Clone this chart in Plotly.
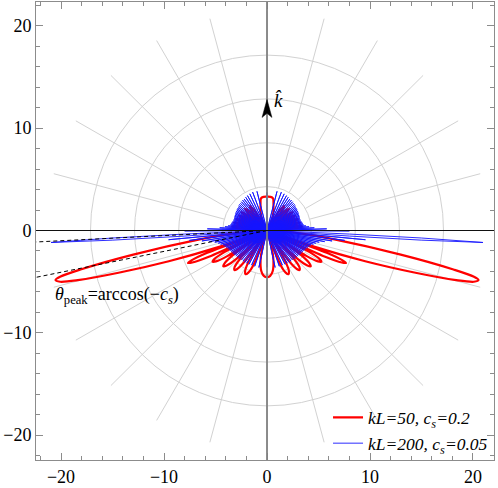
import numpy as np
import plotly.graph_objects as go

# ---------------- data ----------------
series_names = ["<i>kL=50, c<sub>s</sub>=0.2</i>", "<i>kL=200, c<sub>s</sub>=0.05</i>"]
cs_values = [0.2, 0.05]

# red pattern (kL=50, c_s=0.2): right half, angle from k-hat (deg) and radius
red_theta = [
    0, 6, 10.5, 14, 19, 24, 29,
    32, 35, 38, 40,
    42.3, 45, 47.7, 50,
    51.8, 54, 56.2, 58,
    59.8, 62, 64.2, 66,
    67.3, 69.5, 71.7, 73,
    74.3, 76.5, 78.7, 80,
    81.3, 83.5, 85.7, 88,
    95, 97.6, 100.3, 101.9, 102.7, 103.3, 104.0, 104.8, 106.0, 107.5, 109.0, 110.0,
    110.6, 111.7, 112.5, 113.3, 114.4, 115.5,
    117.0, 118.6, 120.0, 121.4, 123.0, 124.5,
    126.0, 127.9, 129.5, 131.1, 133.0, 134.5,
    136.5, 138.6, 140.5, 142.4, 144.5, 147.0,
    149.5, 151.8, 154.0, 156.2, 158.8, 161.5,
    164.5, 168, 172, 176, 180]
red_r = [
    3.3, 3.3, 3.2, 2.6, 1.9, 1.2, 0,
    2.3, 2.9, 2.3, 0,
    2.4, 3.0, 2.4, 0,
    2.45, 3.05, 2.45, 0,
    2.5, 3.1, 2.5, 0,
    2.55, 3.2, 2.55, 0,
    2.6, 3.3, 2.6, 0,
    2.7, 3.4, 2.7, 0,
    3.2, 6.6, 13.2, 18.5, 20.6, 21.1, 20.7, 19.0, 15.0, 10.0, 5.0, 0,
    6.2, 7.9, 8.3, 7.9, 6.2, 0,
    4.6, 5.8, 6.1, 5.8, 4.6, 0,
    4.1, 5.2, 5.5, 5.2, 4.1, 0,
    3.7, 4.75, 5.0, 4.75, 3.7, 0,
    3.5, 4.5, 4.75, 4.5, 3.5, 0,
    1.6, 3.0, 4.0, 4.45, 4.56]

# blue pattern (kL=200, c_s=0.05): lobe tips, right half
blue_up_theta = [0, 14.3, 20.4, 25.0, 29.1, 32.5, 35.8, 38.7, 41.5, 44.2,
                 46.7, 49.1, 51.5, 53.8, 55.9, 58.1, 60.2, 62.2, 64.3, 66.2,
                 68.2, 70.1, 72.0, 73.9, 75.8, 77.6, 79.5, 81.3, 83.1, 84.9,
                 86.7, 88.4, 90.3]
blue_up_r = [3.7, 3.95, 4.0, 3.95, 3.9, 3.85, 3.8, 3.8, 3.75, 3.7,
             3.7, 3.65, 3.6, 3.6, 3.55, 3.55, 3.5, 3.5, 3.45, 3.45,
             3.4, 3.4, 3.4, 3.4, 3.45, 3.5, 3.55, 3.6, 3.8, 4.1,
             4.6, 5.8, 8.0]
blue_main_theta = [91.2, 92.5, 92.8, 93.2, 93.6, 93.9, 95.0]
blue_main_r = [0, 8, 15, 21.0, 15, 8, 0]
blue_low_theta = [95.4, 97.3, 99.2, 101.0, 102.8, 104.7, 106.6, 108.5, 110.4, 112.4,
                  114.3, 116.3, 118.3, 120.4, 122.5, 124.7, 126.9, 129.2, 131.5, 134.0,
                  136.5, 139.2, 142.1, 145.1, 148.4, 152.0, 156.2, 161.1, 167.7, 180]
blue_low_r = [9.6, 7.6, 6.4, 5.7, 5.2, 4.9, 4.7, 4.5, 4.4, 4.3,
              4.2, 4.15, 4.1, 4.05, 4.0, 4.0, 3.95, 3.9, 3.9, 3.85,
              3.85, 3.8, 3.8, 3.8, 3.75, 3.75, 3.7, 3.7, 3.7, 3.6]

tick_vals = [-20, -10, 0, 10, 20]
tick_text = ["\u221220", "\u221210", "0", "10", "20"]
grid_radii = [4.29, 8.57, 12.86, 17.14]
ray_r_inner, ray_r_outer = 4.29, 21.43
ray_angles = list(range(0, 360, 15))
khat_tip, khat_base, khat_notch, khat_halfwidth = 12.8, 11.05, 11.45, 0.48

FONT = "Liberation Serif, Times New Roman, serif"
XR = [-22.43, 22.04]
YR = [-22.43, 22.33]


def polar_xy(theta_deg, r):
    t = np.radians(np.asarray(theta_deg, dtype=float))
    r = np.asarray(r, dtype=float)
    return r * np.sin(t), r * np.cos(t)


def mirror_closed(x, y):
    # right half followed by mirrored left half (going back up)
    xs = np.concatenate([x, -x[::-1][1:]])
    ys = np.concatenate([y, y[::-1][1:]])
    return xs, ys


fig = go.Figure()

# polar grid rays
rx, ry = [], []
for a in ray_angles:
    x0, y0 = polar_xy(a, ray_r_inner)
    x1, y1 = polar_xy(a, ray_r_outer)
    rx += [float(x0), float(x1), None]
    ry += [float(y0), float(y1), None]
fig.add_trace(go.Scatter(x=rx, y=ry, mode="lines", line=dict(color="#d2d2d2", width=1),
                         showlegend=False, hoverinfo="skip"))

# red curve
xr, yr = polar_xy(red_theta, red_r)
xr, yr = mirror_closed(xr, yr)
fig.add_trace(go.Scatter(x=xr, y=yr, mode="lines", name=series_names[0],
                         line=dict(color="rgb(255,0,0)", width=2.2, shape="spline", smoothing=0.9),
                         hoverinfo="skip"))

# blue curve: lobes from the origin to each tip and back
bt, br = [], []
for t, r in zip(blue_up_theta, blue_up_r):
    bt += [t, t]
    br += [0, r]
bt += blue_main_theta
br += blue_main_r
for t, r in zip(blue_low_theta, blue_low_r):
    bt += [t, t]
    br += [0, r]
xb, yb = polar_xy(bt, br)
xb, yb = mirror_closed(xb, yb)
fig.add_trace(go.Scatter(x=xb, y=yb, mode="lines", name=series_names[1],
                         line=dict(color="rgb(20,20,255)", width=0.9),
                         hoverinfo="skip"))

# dashed peak directions theta_peak = arccos(-c_s), drawn to the left
for cs in cs_values:
    tp = np.degrees(np.arccos(-cs))
    x1, y1 = polar_xy(tp, 26.0)
    fig.add_trace(go.Scatter(x=[0, -float(x1)], y=[0, float(y1)], mode="lines",
                             line=dict(color="black", width=1, dash="4px,3px"),
                             showlegend=False, hoverinfo="skip"))

shapes = []
for r in grid_radii:
    shapes.append(dict(type="circle", xref="x", yref="y", x0=-r, x1=r, y0=-r, y1=r,
                       line=dict(color="#d2d2d2", width=1), layer="below"))
# axes through the origin
shapes.append(dict(type="line", xref="x", yref="paper", x0=0, x1=0, y0=0, y1=1,
                   line=dict(color="#808080", width=1.8), layer="above"))
shapes.append(dict(type="line", xref="paper", yref="y", x0=0, x1=1, y0=0, y1=0,
                   line=dict(color="#111111", width=1.1), layer="above"))
# k-hat arrow head
shapes.append(dict(type="path", xref="x", yref="y",
                   path=f"M 0,{khat_tip} L {-khat_halfwidth},{khat_base} L 0,{khat_notch} "
                        f"L {khat_halfwidth},{khat_base} Z",
                   fillcolor="black", line=dict(color="black", width=0.5), layer="above"))

annotations = [
    dict(x=0.5, y=12.75, xref="x", yref="y", text="<i>k̂</i>", showarrow=False,
         xanchor="left", yanchor="middle", font=dict(family=FONT, size=19, color="black")),
    dict(x=-20.75, y=-6.4, xref="x", yref="y",
         text="<i>θ</i><sub>peak</sub>=arccos(\u2212<i>c<sub>s</sub></i>)", showarrow=False,
         xanchor="left", yanchor="middle", font=dict(family=FONT, size=18, color="black")),
]

axis_common = dict(
    tickvals=tick_vals, ticktext=tick_text, ticks="inside", ticklen=7, tickwidth=1,
    tickcolor="#8c8c8c", showline=True, linecolor="#8c8c8c", linewidth=1, mirror="ticks",
    showgrid=False, zeroline=False,
    minor=dict(dtick=2, ticks="inside", ticklen=4, tickcolor="#8c8c8c", showgrid=False),
    tickfont=dict(family=FONT, size=18, color="black"),
)

fig.update_layout(
    width=498, height=488,
    margin=dict(l=36, r=4, t=1, b=26),
    paper_bgcolor="white", plot_bgcolor="white",
    xaxis=dict(range=XR, **axis_common),
    yaxis=dict(range=YR, **axis_common),
    shapes=shapes, annotations=annotations,
    showlegend=True,
    legend=dict(x=0.6376, y=0.132, xanchor="left", yanchor="top",
                bgcolor="rgba(0,0,0,0)", font=dict(family=FONT, size=17.5, color="black"),
                tracegroupgap=0),
)

fig.write_html("out.html", config={"displayModeBar": False},
               post_script="document.body.style.margin='0';")
